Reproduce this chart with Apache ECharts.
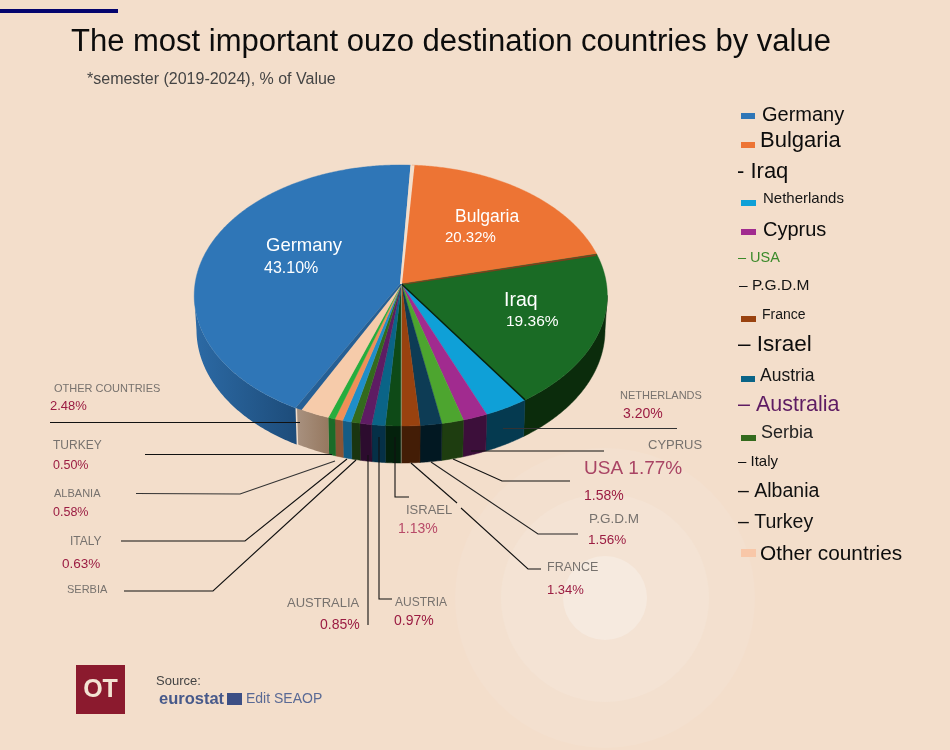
<!DOCTYPE html>
<html><head><meta charset="utf-8">
<style>html,body{margin:0;padding:0;background:#f3decb}#c{width:950px;height:750px}</style>
<script src="https://cdn.jsdelivr.net/npm/echarts@6/dist/echarts.min.js"></script>
</head><body><div id="c"></div>
<script>
const categories = ['Bulgaria','Iraq','Netherlands','Cyprus','USA','P.G.D.M','France','Israel','Austria','Australia','Serbia','Italy','Albania','Turkey','Other countries','Germany'];
const values = [20.32,19.36,3.20,1.77,1.58,1.56,1.34,1.13,0.97,0.85,0.63,0.63,0.58,0.50,2.48,43.10];
const topColors = ['#ed7434','#1a6b25','#0fa0d7','#a12b8f','#4da52f','#0d3c55','#99420f','#0e4a17','#0a6487','#5e1c63','#336a1d','#1f8ec9','#ef9058','#26ad3d','#f6cbaa','#2f76b7'];
const sideColors = ['#7a3a14','#0b2c0c','#053a50','#3c0f3a','#1e3d10','#021822','#431d06','#04210c','#053047','#2c0c2e','#1a3510','#145c84','#8a5535','#1b6b28',['#a8917f','#96785f'],['#2c6aa5','#1d4c7a']];

const CX=401.5, CY=284, R=205, RY=129.5, K=0.088, START=3.2;
const LOW_CY=330, LOW_RY=133, LOW_RX=203.5;
const WALL_FROM=95, WALL_TO=265;
const total = values.reduce((a,b)=>a+b,0);
const starts=[]; { let a=START; values.forEach(v=>{starts.push(a); a+=v/total*360;}); }
const ends = starts.map((s,i)=>s+values[i]/total*360);
function proj(deg,r,lower,off){
  const t=deg*Math.PI/180, u=r*Math.sin(t), v=-r*Math.cos(t), s=1/(1-K*v);
  let X=CX+R*u*s, Y=CY+RY*v*s;
  if(lower){
    const d=Math.max(-1,Math.min(1,(X-CX)/(R*1.0039)));
    X=CX+LOW_RX*d;
    Y=LOW_CY+LOW_RY*Math.sqrt(1-d*d);
  }
  return [X+(off?off[0]:0), Y+(off?off[1]:0)];
}
const offs=i=>categories[i]==='Germany'?[-1.5,0]:null;
function arc(a,b,lower,off){const p=[],n=Math.max(2,Math.ceil(b-a)*2);for(let j=0;j<=n;j++)p.push(proj(a+(b-a)*j/n,1,lower,off));return p;}
function fill(c){return Array.isArray(c)?{type:'linear',x:0,y:0,x2:1,y2:0,colorStops:[{offset:0,color:c[0]},{offset:1,color:c[1]}]}:c;}

function wallItem(params,api){
  const i=api.value(0),o=offs(i);
  const a=Math.max(starts[i],WALL_FROM), b=Math.min(ends[i],WALL_TO);
  if(b<=a) return {type:'group',children:[]};
  const pts=arc(a,b,false,o).concat(arc(a,b,true,o).reverse());
  return {type:'polygon',shape:{points:pts},style:{fill:fill(sideColors[i]),stroke:Array.isArray(sideColors[i])?null:sideColors[i],lineWidth:0.5}};
}
function topItem(params,api){
  const i=api.value(0),o=offs(i);
  const pts=[proj(0,0,false,o)].concat(arc(starts[i],ends[i],false,o));
  return {type:'polygon',shape:{points:pts},style:{fill:topColors[i],stroke:topColors[i],lineWidth:0.4}};
}
// thin faces and edges visible between slices
function edgeItem(params,api){
  const i=api.value(0);
  const ch=[];
  if(categories[i]==='Germany'){
    const a=proj(0,0,false,offs(i)),b=proj(starts[i],1,false,offs(i));
    ch.push({type:'polygon',shape:{points:[a,b,[b[0]+6,b[1]+2],[a[0]+3,a[1]-1]]},style:{fill:'#255f95'}});
    const e=proj(ends[i],1,false,offs(i));
    ch.push({type:'polygon',shape:{points:[a,e,[e[0]+4,e[1]],[a[0]+2,a[1]]]},style:{fill:'#f3decb'}});
  }
  if(categories[i]==='Bulgaria'){
    const a=proj(0,0),b=proj(ends[i],1);
    ch.push({type:'polygon',shape:{points:[a,b,[b[0]-1,b[1]+2],[a[0],a[1]+1]]},style:{fill:'#7c3f1c'}});
  }
  if(categories[i]==='Iraq'){
    ch.push({type:'line',shape:{x1:proj(0,0)[0],y1:proj(0,0)[1],x2:proj(ends[i],1)[0],y2:proj(ends[i],1)[1]},style:{stroke:'#06200a',lineWidth:1.4}});
  }
  if(categories[i]==='France'){
    const a=proj(0,0),b=proj(ends[i],1),c=proj(ends[i],1,true);
    ch.push({type:'polyline',shape:{points:[a,b,c]},style:{stroke:'rgba(230,215,190,0.6)',lineWidth:0.8,fill:null}});
  }
  return {type:'group',children:ch};
}

const T=(x,y,text,size,color,extra)=>({type:'text',z:20,x,y:y+2,style:Object.assign({text,fontFamily:'"Liberation Sans",Arial,sans-serif',fontSize:size,fill:color,verticalAlign:'middle',align:'left'},extra||{})});
const L=(pts,w,c)=>({type:'polyline',z:15,shape:{points:pts},style:{stroke:c||'#111',lineWidth:w||1.1,fill:null}});
const S=(x,y,w,h,c)=>({type:'rect',z:10,shape:{x,y,width:w,height:h},style:{fill:c}});
const C=(cx,cy,r,c)=>({type:'circle',z:1,shape:{cx,cy,r},style:{fill:c}});
const pct=name=>values[categories.indexOf(name)].toFixed(2)+'%';
const col=name=>topColors[categories.indexOf(name)];
const GREY='#77726e', RED='#9b1c42';

const graphics=[
  C(605,598,150,'#f3e0cf'),C(605,598,104,'#f4e3d4'),C(605,598,42,'#f6eadf'),
  S(0,9,118,4,'#04046e'),
  T(71,40,'The most important ouzo destination countries by value',31,'#0c0c0c'),
  T(87,78,'*semester (2019-2024), % of Value',16,'#444'),
  // inner labels
  T(266,244,'Germany',18.5,'#fff'),T(264,267,pct('Germany'),16,'#fff'),
  T(455,215,'Bulgaria',17.5,'#fff'),T(445,236,pct('Bulgaria'),15,'#fff'),
  T(504,299,'Iraq',19.5,'#fff'),T(506,320,pct('Iraq'),15.5,'#fff'),
  // leader lines
  L([[50,422.5],[300,422.5]]),
  L([[145,454.5],[332,454.5]]),
  L([[136,493.5],[240,494],[335,461]],1.2,'#333'),
  L([[121,541],[245,541],[347,459]]),
  L([[124,591],[213,591],[356,460]]),
  L([[368,455],[368,625]]),
  L([[379,437],[379,599],[392,599]]),
  L([[395,437],[395,497],[409,497]]),
  L([[411,463],[457,503]]),L([[461,508],[528,569],[541,569]]),
  L([[431,462],[538,534],[578,534]],1.1,'#222'),
  L([[453,459],[502,481],[570,481]]),
  L([[471,451],[604,451]]),
  L([[503,428.5],[677,428.5]],1.1,'#333'),
  // outer labels
  T(54,387,'OTHER COUNTRIES',11,GREY),T(50,404,pct('Other countries'),13,RED),
  T(53,444,'TURKEY',12,GREY),T(53,464,pct('Turkey'),12.5,RED),
  T(54,492,'ALBANIA',11,GREY),T(53,511,pct('Albania'),12.5,RED),
  T(70,540,'ITALY',12,GREY),T(62,562,pct('Italy'),13.5,RED),
  T(67,588,'SERBIA',11,GREY),
  T(287,601,'AUSTRALIA',13,GREY),T(320,623,pct('Australia'),14,RED),
  T(395,601,'AUSTRIA',12,GREY),T(394,619,pct('Austria'),14,RED),
  T(406,508,'ISRAEL',13,GREY),T(398,527,pct('Israel'),14,'#b84a68'),
  T(547,566,'FRANCE',12.5,GREY),T(547,588,pct('France'),13,RED),
  T(589,517,'P.G.D.M',13.5,GREY),T(588,538,pct('P.G.D.M'),13.5,RED),
  T(648,443,'CYPRUS',13,GREY),
  T(584,467,'USA '+pct('Cyprus'),19,'#a94464'),T(584,494,pct('USA'),14,RED),
  T(620,394,'NETHERLANDS',11,GREY),T(623,412,pct('Netherlands'),14,RED),
  // legend
  S(741,113,14,6,col('Germany')),T(762,113,'Germany',20,'#0c0c0c'),
  S(741,142,14,6,col('Bulgaria')),T(760,139,'Bulgaria',22,'#0c0c0c'),
  T(737,170,'- Iraq',22,'#0c0c0c'),
  S(741,200,15,6,col('Netherlands')),T(763,197,'Netherlands',15,'#151515'),
  S(741,229,15,6,col('Cyprus')),T(763,228,'Cyprus',20,'#0c0c0c'),
  T(738,256,'– USA',14.5,'#3b8a2a'),
  T(739,284,'– P.G.D.M',15.5,'#151515'),
  S(741,316,15,6,col('France')),T(762,313,'France',14,'#151515'),
  T(738,343,'– Israel',22.5,'#0c0c0c'),
  S(741,376,14,6,col('Austria')),T(760,374,'Austria',17.5,'#151515'),
  T(738,403,'– Australia',21.5,'#5e1c63'),
  S(741,435,15,6,col('Serbia')),T(761,431,'Serbia',18,'#222'),
  T(738,460,'– Italy',15,'#111'),
  T(738,490,'– Albania',19.5,'#111'),
  T(738,521,'– Turkey',19.5,'#111'),
  S(741,549,15,8,'#f8c7a8'),T(760,552,'Other countries',20.8,'#0c0c0c'),
  // footer
  S(76,665,49,49,'#8b1a2e'),
  T(100.5,688,'OT',25,'#f3e3d2',{align:'center',fontWeight:'bold'}),
  T(156,679,'Source:',13,'#444'),
  T(159,697,'eurostat',16.5,'#47598a',{fontWeight:'bold'}),
  S(227,693,15,12,'#3c4f85'),
  T(246,697,'Edit SEAOP',14,'#5a6a95')
];

const rows=values.map((v,i)=>[i,v]);
const chart=echarts.init(document.getElementById('c'),null,{renderer:'canvas'});
chart.setOption({
  animation:false,
  backgroundColor:'#f3decb',
  graphic:graphics,
  series:[
    {type:'custom',name:'walls',coordinateSystem:'none',renderItem:wallItem,data:rows,z:5,silent:true},
    {type:'custom',name:'tops',coordinateSystem:'none',renderItem:topItem,data:rows,z:6,silent:true},
    {type:'custom',name:'edges',coordinateSystem:'none',renderItem:edgeItem,data:rows,z:7,silent:true}
  ]
});
</script></body></html>
